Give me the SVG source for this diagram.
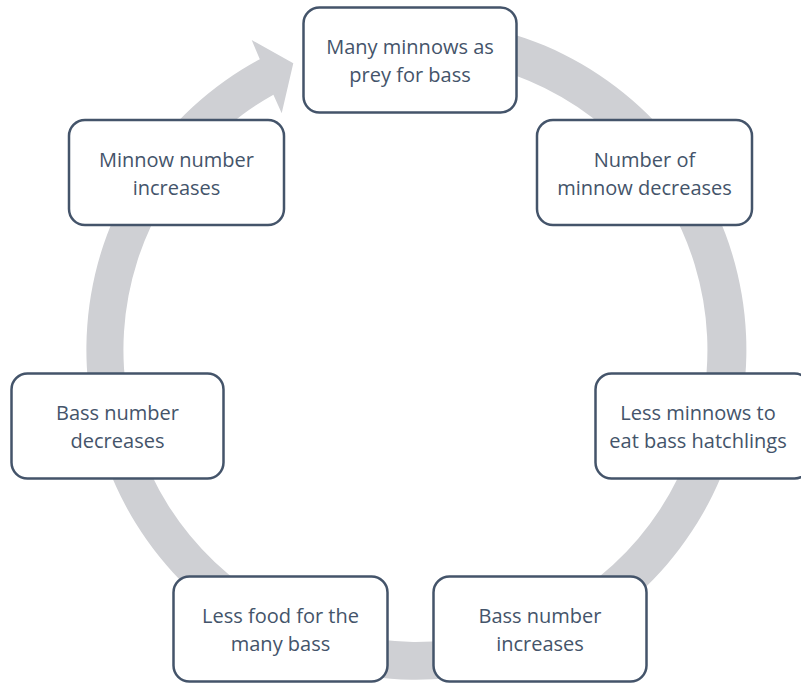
<svg xmlns="http://www.w3.org/2000/svg" width="801" height="683" viewBox="0 0 801 683">
<style>
.node rect{fill:#ffffff;stroke:#44546A;stroke-width:2.5}
.node text{font-family:"Open Sans","Noto Sans","Liberation Sans",sans-serif;font-size:20px;fill:#44546A;text-anchor:middle}
.ring{fill:#CFD0D4;stroke:none}
</style>
<rect width="801" height="683" fill="#ffffff"/>
<g id="connectors">
<path class="ring" d="M 341.9 28.2 A 330 330 0 1 1 259.8 59.2 L 251.7 40 L 293.3 63.3 L 281.7 113.3 L 273.4 94.8 A 292 292 0 1 0 349.8 65.4 Z"/>
</g>
<g id="node1" class="node">
<rect x="303.5" y="7.5" width="213" height="105" rx="16"/>
<text x="410" y="54">Many minnows as</text>
<text x="410" y="82">prey for bass</text>
</g>
<g id="node2" class="node">
<rect x="69" y="120" width="215" height="105" rx="16"/>
<text x="176.5" y="166.5">Minnow number</text>
<text x="176.5" y="194.5">increases</text>
</g>
<g id="node3" class="node">
<rect x="537" y="120" width="215" height="105" rx="16"/>
<text x="644.5" y="166.5">Number of</text>
<text x="644.5" y="194.5">minnow decreases</text>
</g>
<g id="node4" class="node">
<rect x="11.5" y="373.5" width="212" height="105" rx="16"/>
<text x="117.5" y="420">Bass number</text>
<text x="117.5" y="448">decreases</text>
</g>
<g id="node5" class="node">
<rect x="595.5" y="373.5" width="215" height="105" rx="16"/>
<text x="698" y="420">Less minnows to</text>
<text x="698" y="448">eat bass hatchlings</text>
</g>
<g id="node6" class="node">
<rect x="173.5" y="576.5" width="214" height="105" rx="16"/>
<text x="280.5" y="623">Less food for the</text>
<text x="280.5" y="651">many bass</text>
</g>
<g id="node7" class="node">
<rect x="433.5" y="576.5" width="213" height="105" rx="16"/>
<text x="540" y="623">Bass number</text>
<text x="540" y="651">increases</text>
</g>
</svg>
